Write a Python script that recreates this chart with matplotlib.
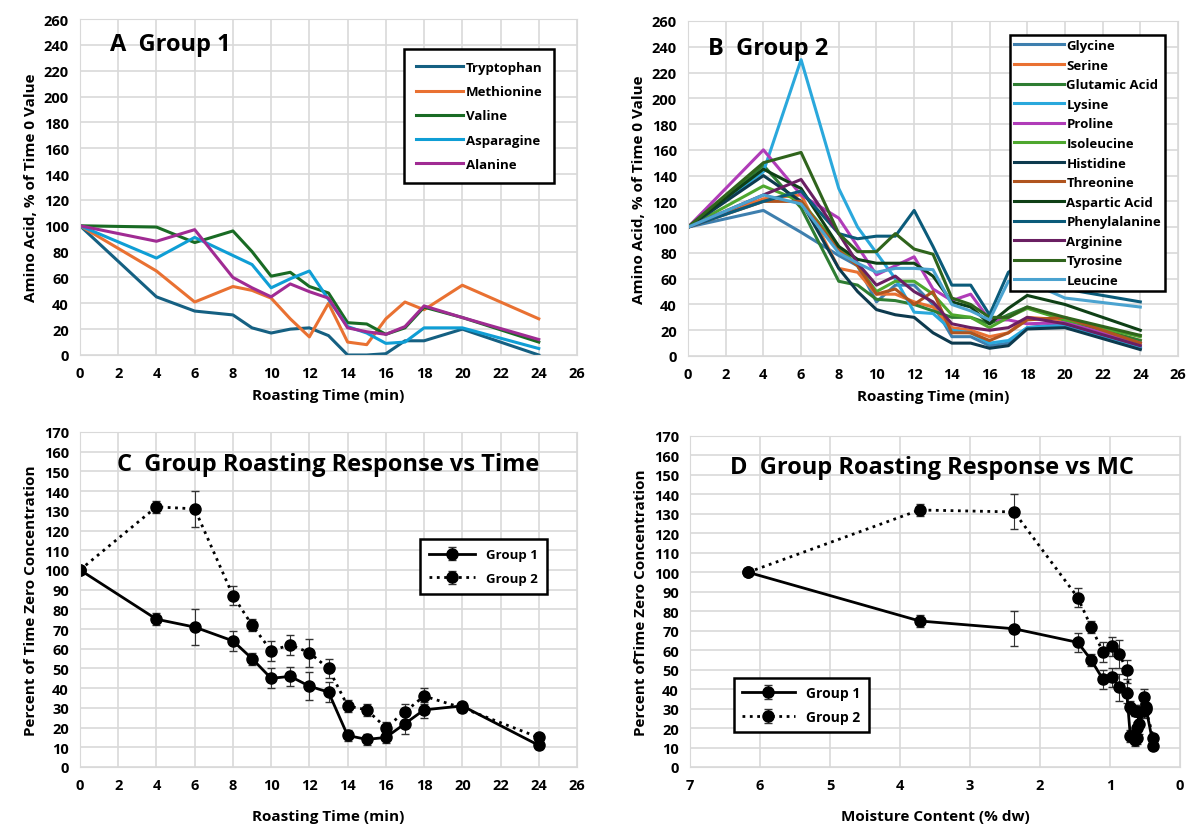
import numpy as np
import matplotlib.pyplot as plt

plt.rcParams['font.family'] = ['Open Sans', 'DejaVu Sans']
plt.rcParams['font.weight'] = 'bold'

# roasting times (min)
t = [0, 4, 6, 8, 9, 10, 11, 12, 13, 14, 15, 16, 17, 18, 20, 24]

# group 1 amino acids, % of time 0
tryptophan = [100, 45, 34, 31, 21, 17, 20, 21, 15, 0, 0, 1, 11, 11, 20, 0]
methionine = [100, 65, 41, 53, 50, 44, 28, 14, 40, 10, 8, 28, 41, 35, 54, 28]
valine = [100, 99, 87, 96, 80, 61, 64, 53, 48, 25, 24, 16, 21, 37, 29, 10]
asparagine = [100, 75, 91, 77, 70, 52, 59, 65, 43, 22, 17, 9, 10, 21, 21, 5]
alanine = [100, 88, 97, 60, 52, 45, 55, 49, 44, 21, 18, 16, 22, 38, 29, 12]

# group 2 amino acids, % of time 0
glycine = [100, 113, 96, 78, 70, 42, 55, 55, 40, 15, 15, 8, 10, 22, 25, 6]
serine = [100, 122, 125, 68, 65, 48, 48, 42, 38, 22, 20, 15, 18, 30, 28, 12]
glutamic = [100, 148, 115, 58, 55, 44, 43, 40, 35, 30, 30, 25, 32, 38, 28, 12]
lysine = [100, 143, 230, 130, 100, 80, 60, 34, 33, 20, 18, 10, 12, 22, 24, 7]
proline = [100, 160, 125, 107, 85, 63, 70, 77, 52, 43, 48, 28, 28, 25, 26, 10]
isoleucine = [100, 132, 120, 85, 70, 50, 58, 58, 48, 32, 30, 22, 30, 37, 28, 15]
histidine = [100, 140, 120, 68, 50, 36, 32, 30, 18, 10, 10, 6, 8, 21, 22, 5]
threonine = [100, 120, 120, 82, 70, 48, 52, 40, 50, 18, 18, 12, 18, 28, 30, 10]
aspartic = [100, 145, 130, 85, 75, 72, 72, 72, 62, 42, 38, 25, 37, 47, 40, 20]
phenylalanine = [100, 120, 128, 95, 91, 93, 93, 113, 85, 55, 55, 32, 65, 74, 52, 42]
arginine = [100, 125, 137, 95, 72, 55, 62, 50, 42, 25, 22, 20, 22, 30, 25, 8]
tyrosine = [100, 150, 158, 95, 81, 81, 95, 83, 79, 45, 40, 30, 30, 38, 30, 16]
leucine = [100, 125, 118, 80, 72, 65, 68, 68, 67, 40, 35, 28, 58, 58, 45, 38]

# group means and error
g1_mean = [100, 75, 71, 64, 55, 45, 46, 41, 38, 16, 14, 15, 22, 29, 31, 11]
g1_err = [0, 3, 9, 5, 3, 5, 5, 7, 5, 3, 3, 3, 5, 4, 2, 2]
g2_mean = [100, 132, 131, 87, 72, 59, 62, 58, 50, 31, 29, 20, 28, 36, 30, 15]
g2_err = [0, 3, 9, 5, 3, 5, 5, 7, 5, 3, 3, 3, 4, 4, 2, 2]

# moisture content (% dw) at each roasting time
mc = [6.17, 3.72, 2.37, 1.46, 1.27, 1.10, 0.97, 0.87, 0.76, 0.71, 0.64, 0.62, 0.58, 0.52, 0.49, 0.38]

g1_names = ['Tryptophan', 'Methionine', 'Valine', 'Asparagine', 'Alanine']
g1_data = [tryptophan, methionine, valine, asparagine, alanine]
g1_cols = ['#156082', '#E97132', '#196B24', '#0F9ED5', '#A02B93']

g2_names = ['Glycine', 'Serine', 'Glutamic Acid', 'Lysine', 'Proline', 'Isoleucine',
            'Histidine', 'Threonine', 'Aspartic Acid', 'Phenylalanine', 'Arginine',
            'Tyrosine', 'Leucine']
g2_data = [glycine, serine, glutamic, lysine, proline, isoleucine, histidine,
           threonine, aspartic, phenylalanine, arginine, tyrosine, leucine]
g2_cols = ['#3E7FAE', '#E97132', '#2E7D32', '#2AA8DC', '#B03CB8', '#4EA72E',
           '#0D3A4E', '#B0541E', '#0F4016', '#0B5B7A', '#6A1F62', '#2F641C', '#4BA3D0']

W, H = 1189, 829
fig = plt.figure(figsize=(W / 100, H / 100), dpi=100)


def box(l, r, top, bot):
    return fig.add_axes([l / W, 1 - bot / H, (r - l) / W, (bot - top) / H])


def style(ax, xlim, xt, ylim, yt):
    ax.set_xlim(*xlim)
    ax.set_ylim(*ylim)
    ax.set_xticks(xt)
    ax.set_yticks(yt)
    ax.grid(True, color='#D9D9D9', lw=1.2)
    ax.set_axisbelow(True)
    for s in ax.spines.values():
        s.set_color('#D9D9D9')
    ax.tick_params(length=0, labelsize=10.5, pad=8)
    for lb in ax.get_xticklabels() + ax.get_yticklabels():
        lb.set_fontweight('bold')


def leg(ax, anchor, fs, **kw):
    lg = ax.legend(loc='upper left', bbox_to_anchor=anchor, fontsize=fs, frameon=True,
                   fancybox=False, framealpha=1, edgecolor='black', **kw)
    lg.get_frame().set_linewidth(1.8)
    for tx in lg.get_texts():
        tx.set_fontweight('bold')
    return lg


# panel A
ax = box(80, 577, 20, 356)
for nm, d, c in zip(g1_names, g1_data, g1_cols):
    ax.plot(t, d, color=c, lw=2.2, label=nm)
style(ax, (0, 26), range(0, 27, 2), (0, 260), range(0, 261, 20))
ax.set_xlabel('Roasting Time (min)', fontsize=11, fontweight='bold', labelpad=6)
ax.set_ylabel('Amino Acid, % of Time 0 Value', fontsize=11, fontweight='bold')
ax.text(0.06, 0.925, 'A  Group 1', transform=ax.transAxes, fontsize=17,
        fontweight='bold', va='center')
leg(ax, (0.638, 0.93), 9.5, handlelength=3.6, labelspacing=0.85, borderpad=0.9,
    handletextpad=0.2)

# panel B
ax = box(688, 1178, 22, 357)
for nm, d, c in zip(g2_names, g2_data, g2_cols):
    ax.plot(t, d, color=c, lw=2.2, label=nm)
style(ax, (0, 26), range(0, 27, 2), (0, 260), range(0, 261, 20))
ax.set_xlabel('Roasting Time (min)', fontsize=11, fontweight='bold', labelpad=6)
ax.set_ylabel('Amino Acid, % of Time 0 Value', fontsize=11, fontweight='bold')
ax.text(0.04, 0.92, 'B  Group 2', transform=ax.transAxes, fontsize=17,
        fontweight='bold', va='center')
leg(ax, (0.643, 0.978), 9.5, handlelength=3.8, labelspacing=0.5, borderpad=0.3,
    handletextpad=0.2)


def group_panel(ax, x):
    ax.errorbar(x, g1_mean, yerr=g1_err, color='black', lw=2, marker='o', ms=8,
                capsize=3, elinewidth=0.8, ecolor='#333333', label='Group 1')
    ax.errorbar(x, g2_mean, yerr=g2_err, color='black', lw=2, ls=':', marker='o', ms=8,
                capsize=3, elinewidth=0.8, ecolor='#333333', label='Group 2')


# panel C
ax = box(80, 577, 433, 768)
group_panel(ax, t)
style(ax, (0, 26), range(0, 27, 2), (0, 170), range(0, 171, 10))
ax.set_xlabel('Roasting Time (min)', fontsize=11, fontweight='bold', labelpad=12)
ax.set_ylabel('Percent of Time Zero Concentration', fontsize=11, fontweight='bold')
ax.text(0.5, 0.905, 'C  Group Roasting Response vs Time', transform=ax.transAxes,
        fontsize=17, fontweight='bold', ha='center', va='center')
leg(ax, (0.67, 0.70), 9.5, handlelength=3.5, labelspacing=0.8, borderpad=0.7)

# panel D
ax = box(690, 1180, 437, 768)
group_panel(ax, mc)
style(ax, (7, 0), range(7, -1, -1), (0, 170), range(0, 171, 10))
ax.set_xlabel('Moisture Content (% dw)', fontsize=11, fontweight='bold', labelpad=12)
ax.set_ylabel('Percent ofTime Zero Concentration', fontsize=11, fontweight='bold')
ax.text(0.494, 0.906, 'D  Group Roasting Response vs MC', transform=ax.transAxes,
        fontsize=17, fontweight='bold', ha='center', va='center')
leg(ax, (0.075, 0.29), 10, handlelength=3.8, labelspacing=0.7, borderpad=0.6)

fig.savefig('out.png', dpi=100)
